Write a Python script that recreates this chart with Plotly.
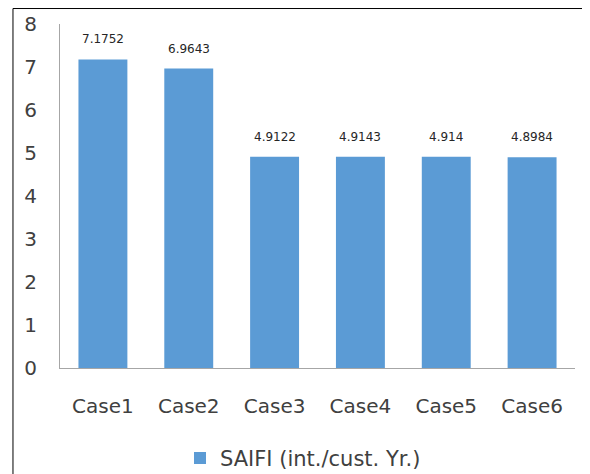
import plotly.graph_objects as go

cases = ["Case1", "Case2", "Case3", "Case4", "Case5", "Case6"]
saifi = [7.1752, 6.9643, 4.9122, 4.9143, 4.914, 4.8984]
saifi_labels = ["7.1752", "6.9643", "4.9122", "4.9143", "4.914", "4.8984"]

fig = go.Figure()
fig.add_trace(go.Bar(
    x=cases, y=saifi,
    name="SAIFI (int./cust. Yr.)",
    marker=dict(color="#5b9bd5", line=dict(width=0)),
))

# value labels above each bar
for c, v, t in zip(cases, saifi, saifi_labels):
    fig.add_annotation(
        x=c, y=v, text=t, showarrow=False,
        yanchor="bottom", yshift=11,
        font=dict(family="DejaVu Sans", size=12, color="#262626"),
    )

# outer frame
fig.add_shape(
    type="rect", xref="paper", yref="paper",
    x0=-0.0913, x1=1.08, y0=-0.4, y1=1.045,
    line=dict(color="#000000", width=1), fillcolor="rgba(0,0,0,0)",
    layer="below",
)

fig.update_layout(
    width=590, height=474,
    margin=dict(l=52, r=23, t=16, b=114, autoexpand=False),
    paper_bgcolor="white", plot_bgcolor="white",
    bargap=0.43,
    font=dict(family="DejaVu Sans", size=20, color="#404040"),
    showlegend=True,
    legend=dict(
        orientation="h", xref="container", x=0.5, xanchor="center",
        yref="container", y=0.05, yanchor="middle",
        font=dict(size=21, color="#404040"),
    ),
    xaxis=dict(
        showline=True, linecolor="#a6a6a6", linewidth=1,
        ticks="", showgrid=False, ticklabelstandoff=20,
    ),
    yaxis=dict(
        range=[0, 8], dtick=1,
        showline=True, linecolor="#a6a6a6", linewidth=1,
        ticks="", showgrid=False, zeroline=False,
        ticklabelstandoff=18,
    ),
)

fig.write_html("out.html")
